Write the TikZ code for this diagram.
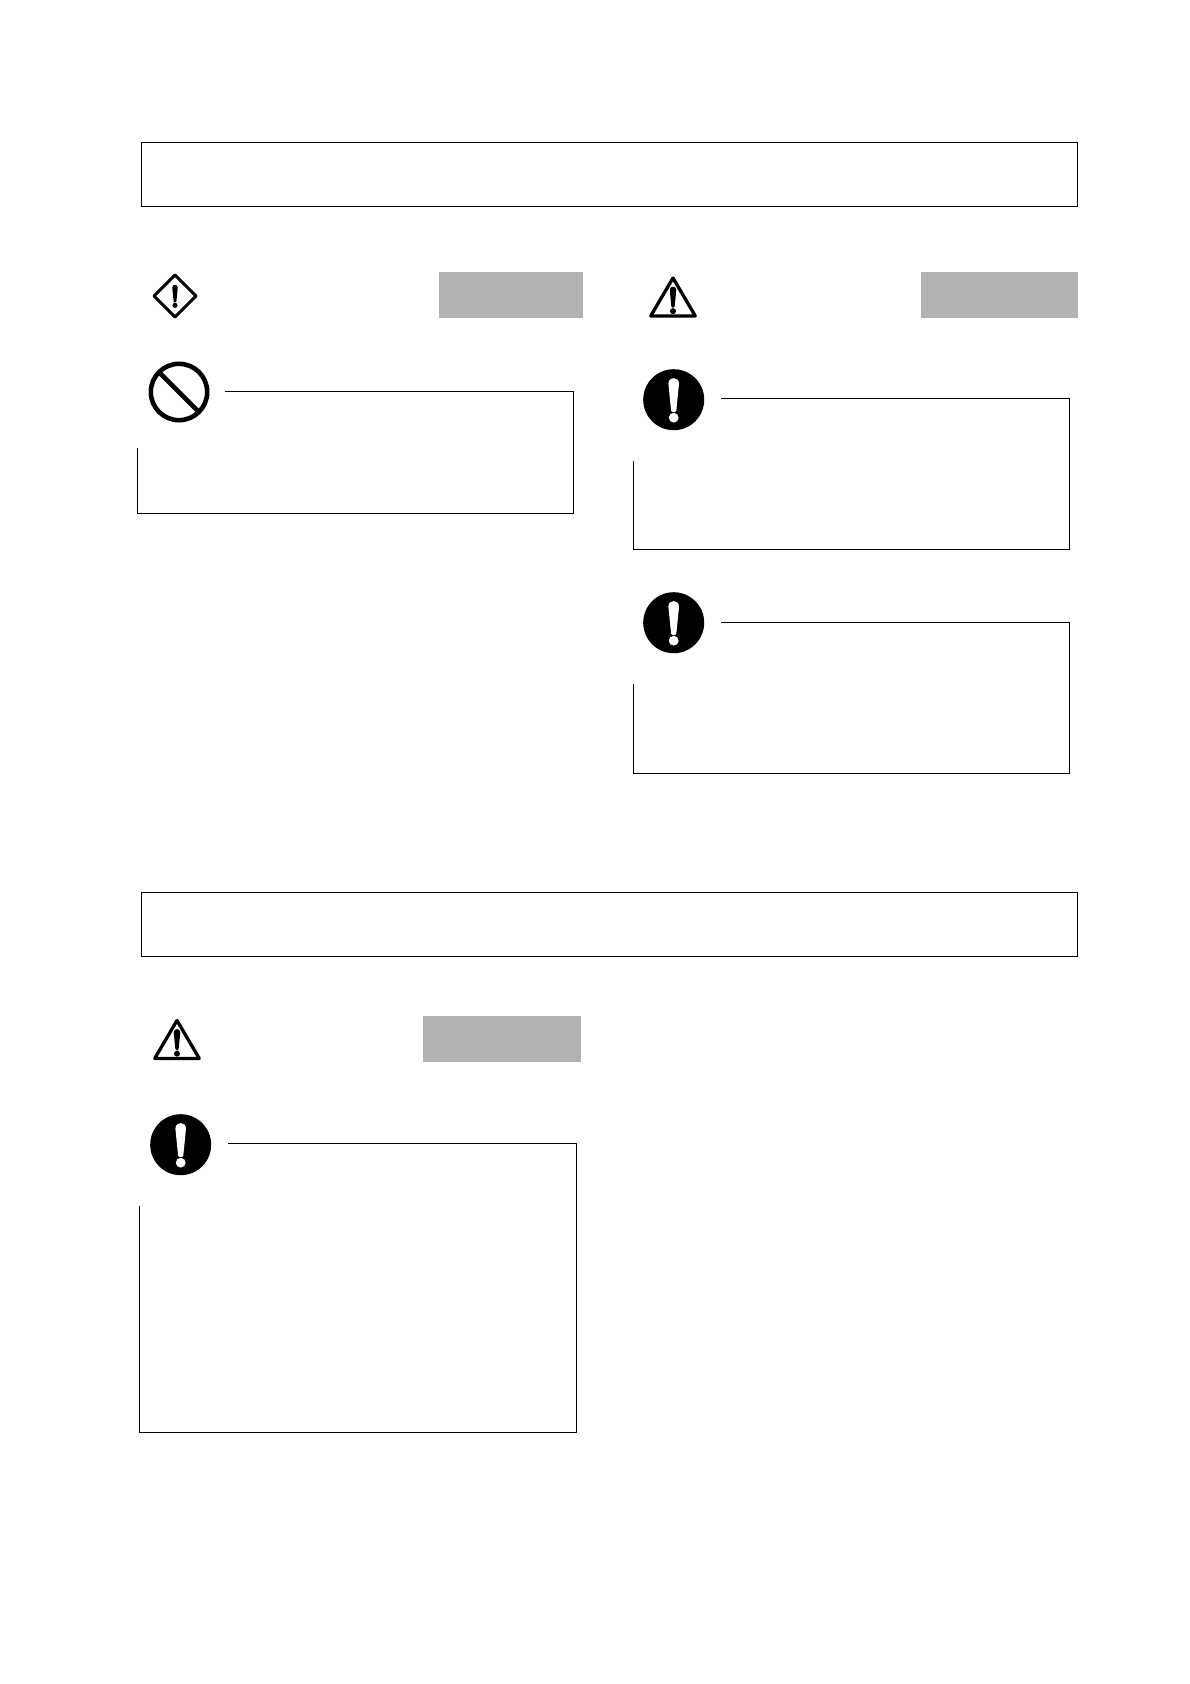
\documentclass[tikz,border=0pt]{standalone}
\usepackage{tikz}

\tikzset{
  headbox/.style={draw,line width=1pt},
  framebox/.style={draw,line width=1pt},
  graybox/.style={fill=grayfill},
  iconline/.style={line width=3pt,line join=round},
  bang/.pic={
    \fill [pic actions] (-#1*5.3,-#1*16) .. controls (-#1*5.3,-#1*23.5) and (#1*5.3,-#1*23.5) .. (#1*5.3,-#1*16) -- (#1*2.6,#1*11) .. controls (#1*2,#1*13) and (-#1*2,#1*13) .. (-#1*2.6,#1*11) -- cycle;
    \fill [pic actions] (0,#1*18) circle (#1*4.9);
  },
  solidsign/.pic={
    \fill (0,0) circle (30.5);
    \path [fill=white] (0,0) pic {bang=1};
  },
  warnsign/.pic={
    \draw [iconline,line width=3.3pt] (0,2) -- (22.3,40) -- (-22.3,40) -- cycle;
    \path [fill=black] (0,24) pic {bang=0.62};
  },
}
\definecolor{grayfill}{HTML}{B2B2B2}

\begin{document}
\begin{tikzpicture}[x=1pt,y=-1pt]
\useasboundingbox (0,0) rectangle (1190,1684);
% top block
\draw [headbox] (141,142) rectangle (1077,206);
\fill [graybox] (439,272) rectangle (583,318);
\fill [graybox] (921,272) rectangle (1078,318);
\draw [iconline,line width=3pt] (175,275) -- (196,296) -- (175,317) -- (154,296) -- cycle;
\path [fill=black] (175,296) pic {bang=0.52};
\draw [iconline,line width=4.6pt] (179,392) circle (28.2);
\draw [line width=4.6pt] (159.5,372.5) -- (198.5,411.5);
\draw [framebox] (225,391.3) -- (573.8,391.3) -- (573.8,513.3) -- (137.3,513.3) -- (137.3,448);
\path (673,276) pic {warnsign};
\path (673.7,399.7) pic {solidsign};
\draw [framebox] (721,398.3) -- (1069.8,398.3) -- (1069.8,549.3) -- (633.3,549.3) -- (633.3,461);
\path (673.7,622.7) pic {solidsign};
\draw [framebox] (721,622.3) -- (1069.8,622.3) -- (1069.8,773.3) -- (633.3,773.3) -- (633.3,684);
% bottom block
\draw [headbox] (141,892) rectangle (1077,956);
\fill [graybox] (423,1016) rectangle (581,1062);
\path (177,1018.5) pic {warnsign};
\path (180.7,1144.7) pic {solidsign};
\draw [framebox] (228,1143.3) -- (576.8,1143.3) -- (576.8,1432.3) -- (139.3,1432.3) -- (139.3,1206);
\end{tikzpicture}
\end{document}
